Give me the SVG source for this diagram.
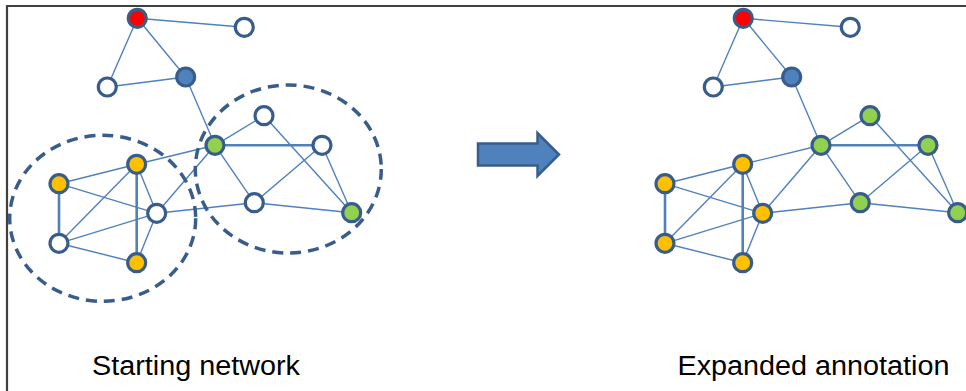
<svg xmlns="http://www.w3.org/2000/svg" xmlns:xlink="http://www.w3.org/1999/xlink" width="966" height="391" viewBox="0 0 966 391">
<style>
.e{stroke:#4F81BD;stroke-width:1.4;fill:none}
.t{stroke:#4F81BD;stroke-width:2.6;fill:none}
.n{stroke:#385D8A;stroke-width:3.2}
.w{fill:#FFFFFF}.r{fill:#FF0000}.b{fill:#4F81BD}.g{fill:#92D050}.y{fill:#FFC000}
.d{fill:none;stroke:#385D8A;stroke-width:3.5;stroke-dasharray:11 7}
.lbl{font-family:"Liberation Sans",Arial,sans-serif;font-size:27px;fill:#000}
</style>
<rect width="966" height="391" fill="#FFFFFF"/>
<path d="M7 391 V6 H966" fill="none" stroke="#404040" stroke-width="2.2"/>
<g id="connectors-left">
<line class="e" x1="137.3" y1="18.3" x2="244.3" y2="27.3"/>
<line class="e" x1="137.3" y1="18.3" x2="107.3" y2="87"/>
<line class="e" x1="137.3" y1="18.3" x2="185.7" y2="77"/>
<line class="e" x1="107.3" y1="87" x2="185.7" y2="77"/>
<line class="e" x1="185.7" y1="77" x2="215" y2="145.3"/>
<line class="e" x1="215" y1="145.3" x2="264" y2="115.7"/>
<line class="t" x1="215" y1="145.3" x2="322" y2="145.3"/>
<line class="e" x1="215" y1="145.3" x2="136.7" y2="164.3"/>
<line class="e" x1="215" y1="145.3" x2="156.7" y2="213.3"/>
<line class="e" x1="215" y1="145.3" x2="254.3" y2="202.7"/>
<line class="e" x1="264" y1="115.7" x2="351.7" y2="212.7"/>
<line class="e" x1="322" y1="145.3" x2="254.3" y2="202.7"/>
<line class="e" x1="322" y1="145.3" x2="351.7" y2="212.7"/>
<line class="e" x1="254.3" y1="202.7" x2="156.7" y2="213.3"/>
<line class="e" x1="254.3" y1="202.7" x2="351.7" y2="212.7"/>
<line class="e" x1="136.7" y1="164.3" x2="59" y2="183.7"/>
<line class="e" x1="136.7" y1="164.3" x2="59" y2="243.3"/>
<line class="t" x1="136.7" y1="164.3" x2="136.7" y2="262.7"/>
<line class="e" x1="136.7" y1="164.3" x2="156.7" y2="213.3"/>
<line class="e" x1="59" y1="183.7" x2="156.7" y2="213.3"/>
<line class="t" x1="59" y1="183.7" x2="59" y2="243.3"/>
<line class="e" x1="59" y1="243.3" x2="156.7" y2="213.3"/>
<line class="e" x1="59" y1="243.3" x2="136.7" y2="262.7"/>
<line class="e" x1="156.7" y1="213.3" x2="136.7" y2="262.7"/>
</g>
<g id="connectors-right" transform="translate(606,0)">
<line class="e" x1="137.3" y1="18.3" x2="244.3" y2="27.3"/>
<line class="e" x1="137.3" y1="18.3" x2="107.3" y2="87"/>
<line class="e" x1="137.3" y1="18.3" x2="185.7" y2="77"/>
<line class="e" x1="107.3" y1="87" x2="185.7" y2="77"/>
<line class="e" x1="185.7" y1="77" x2="215" y2="145.3"/>
<line class="e" x1="215" y1="145.3" x2="264" y2="115.7"/>
<line class="t" x1="215" y1="145.3" x2="322" y2="145.3"/>
<line class="e" x1="215" y1="145.3" x2="136.7" y2="164.3"/>
<line class="e" x1="215" y1="145.3" x2="156.7" y2="213.3"/>
<line class="e" x1="215" y1="145.3" x2="254.3" y2="202.7"/>
<line class="e" x1="264" y1="115.7" x2="351.7" y2="212.7"/>
<line class="e" x1="322" y1="145.3" x2="254.3" y2="202.7"/>
<line class="e" x1="322" y1="145.3" x2="351.7" y2="212.7"/>
<line class="e" x1="254.3" y1="202.7" x2="156.7" y2="213.3"/>
<line class="e" x1="254.3" y1="202.7" x2="351.7" y2="212.7"/>
<line class="e" x1="136.7" y1="164.3" x2="59" y2="183.7"/>
<line class="e" x1="136.7" y1="164.3" x2="59" y2="243.3"/>
<line class="t" x1="136.7" y1="164.3" x2="136.7" y2="262.7"/>
<line class="e" x1="136.7" y1="164.3" x2="156.7" y2="213.3"/>
<line class="e" x1="59" y1="183.7" x2="156.7" y2="213.3"/>
<line class="t" x1="59" y1="183.7" x2="59" y2="243.3"/>
<line class="e" x1="59" y1="243.3" x2="156.7" y2="213.3"/>
<line class="e" x1="59" y1="243.3" x2="136.7" y2="262.7"/>
<line class="e" x1="156.7" y1="213.3" x2="136.7" y2="262.7"/>
</g>
<g id="clusters">
<ellipse class="d" cx="102.7" cy="218.3" rx="93" ry="83"/>
<ellipse class="d" cx="288.3" cy="169" rx="93" ry="84"/>
</g>
<g id="nodes-left">
<g id="L-red"><circle class="n r" cx="137.3" cy="18.3" r="9"/></g>
<g id="L-top-right"><circle class="n w" cx="244.3" cy="27.3" r="9"/></g>
<g id="L-top-left"><circle class="n w" cx="107.3" cy="87" r="9"/></g>
<g id="L-blue"><circle class="n b" cx="185.7" cy="77" r="9"/></g>
<g id="L-c2-top"><circle class="n w" cx="264" cy="115.7" r="9"/></g>
<g id="L-c2-hub"><circle class="n g" cx="215" cy="145.3" r="9"/></g>
<g id="L-c2-right"><circle class="n w" cx="322" cy="145.3" r="9"/></g>
<g id="L-c2-mid"><circle class="n w" cx="254.3" cy="202.7" r="9"/></g>
<g id="L-c2-far"><circle class="n g" cx="351.7" cy="212.7" r="9"/></g>
<g id="L-c1-top"><circle class="n y" cx="136.7" cy="164.3" r="9"/></g>
<g id="L-c1-left"><circle class="n y" cx="59" cy="183.7" r="9"/></g>
<g id="L-c1-center"><circle class="n w" cx="156.7" cy="213.3" r="9"/></g>
<g id="L-c1-bl"><circle class="n w" cx="59" cy="243.3" r="9"/></g>
<g id="L-c1-bottom"><circle class="n y" cx="136.7" cy="262.7" r="9"/></g>
</g>
<g id="nodes-right" transform="translate(606,0)">
<g id="R-red"><circle class="n r" cx="137.3" cy="18.3" r="9"/></g>
<g id="R-top-right"><circle class="n w" cx="244.3" cy="27.3" r="9"/></g>
<g id="R-top-left"><circle class="n w" cx="107.3" cy="87" r="9"/></g>
<g id="R-blue"><circle class="n b" cx="185.7" cy="77" r="9"/></g>
<g id="R-c2-top"><circle class="n g" cx="264" cy="115.7" r="9"/></g>
<g id="R-c2-hub"><circle class="n g" cx="215" cy="145.3" r="9"/></g>
<g id="R-c2-right"><circle class="n g" cx="322" cy="145.3" r="9"/></g>
<g id="R-c2-mid"><circle class="n g" cx="254.3" cy="202.7" r="9"/></g>
<g id="R-c2-far"><circle class="n g" cx="351.7" cy="212.7" r="9"/></g>
<g id="R-c1-top"><circle class="n y" cx="136.7" cy="164.3" r="9"/></g>
<g id="R-c1-left"><circle class="n y" cx="59" cy="183.7" r="9"/></g>
<g id="R-c1-center"><circle class="n y" cx="156.7" cy="213.3" r="9"/></g>
<g id="R-c1-bl"><circle class="n y" cx="59" cy="243.3" r="9"/></g>
<g id="R-c1-bottom"><circle class="n y" cx="136.7" cy="262.7" r="9"/></g>
</g>
<g id="arrow">
<path d="M478 143.5 H537.5 V133 L559 154.5 L537.5 176 V165.5 H478 Z" fill="#4F81BD" stroke="#385D8A" stroke-width="2.5" stroke-linejoin="miter"/>
</g>
<g id="labels">
<text class="lbl" x="92" y="375" textLength="208" lengthAdjust="spacingAndGlyphs">Starting network</text>
<text class="lbl" x="677.5" y="375" textLength="272" lengthAdjust="spacingAndGlyphs">Expanded annotation</text>
</g>
</svg>
